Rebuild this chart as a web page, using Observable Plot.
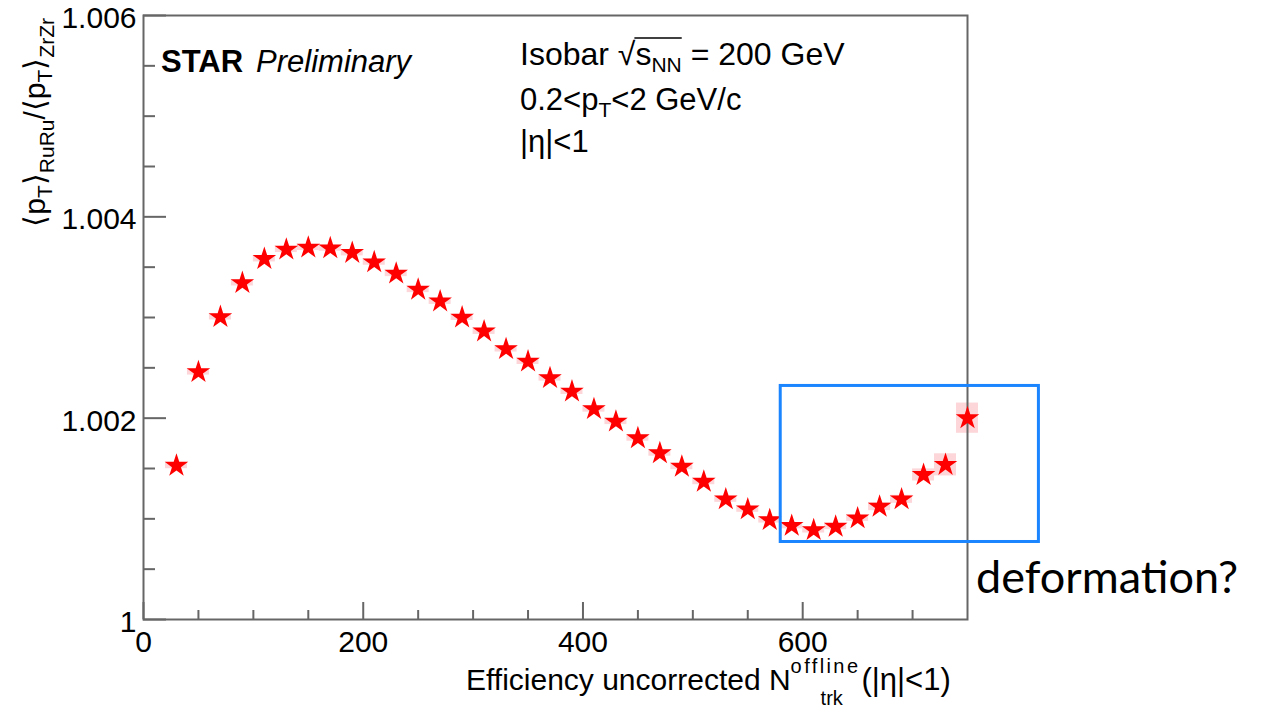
<!DOCTYPE html>
<html>
<head>
<meta charset="utf-8">
<script src="https://cdn.jsdelivr.net/npm/d3@7"></script>
<script src="https://cdn.jsdelivr.net/npm/@observablehq/plot@0.6"></script>
<style>
html, body { margin: 0; padding: 0; background: #fff; }
#chart svg { display: block; }
</style>
</head>
<body>
<div id="chart"></div>
<script>
// ---- data ----
const nTrk = [30, 50, 70, 90, 110, 130, 150, 170, 190, 210, 230, 250, 270, 290, 310, 330, 350, 370, 390,
              410, 430, 450, 470, 490, 510, 530, 550, 570, 590, 610, 630, 650, 670, 690, 710, 730, 750];
const ratio = [1.001528, 1.002458, 1.003005, 1.003343, 1.003582, 1.003675, 1.003695, 1.003688, 1.003642,
               1.003549, 1.003436, 1.003277, 1.003160, 1.003000, 1.002862, 1.002687, 1.002563, 1.002398,
               1.002265, 1.002090, 1.001966, 1.001801, 1.001652, 1.001518, 1.001369, 1.001194, 1.001095,
               1.000988, 1.000931, 1.000889, 1.000922, 1.001005, 1.001121, 1.001194, 1.001436, 1.001536,
               1.002000];
const sysErr = [0.00003, 0.00003, 0.00003, 0.00003, 0.00003, 0.00003, 0.00003, 0.00003, 0.00003,
                0.00003, 0.00003, 0.00003, 0.00003, 0.00003, 0.00003, 0.00003, 0.00003, 0.00003,
                0.00003, 0.00003, 0.00003, 0.00003, 0.00003, 0.00003, 0.00003, 0.00003, 0.00003,
                0.00003, 0.00003, 0.00003, 0.00003, 0.00003, 0.00004, 0.00004, 0.00006, 0.00011,
                0.00015];
const binHalfWidth = 10;

const xMajorTicks = [0, 200, 400, 600];
const xTickLabels = ["0", "200", "400", "600"];
const xMinorTicks = [50, 100, 150, 250, 300, 350, 450, 500, 550, 650, 700];
const yMajorTicks = [1, 1.002, 1.004, 1.006];
const yTickLabels = ["1", "1.002", "1.004", "1.006"];
const yMinorTicks = [1.0005, 1.001, 1.0015, 1.0025, 1.003, 1.0035, 1.0045, 1.005, 1.0055];

// highlighted region (the blue box)
const highlight = [{x1: 580, x2: 815, y1: 1.00077, y2: 1.00232}];

// ---- build ----
const points = nTrk.map((x, i) => ({x, y: ratio[i], e: sysErr[i]}));
const FONT = "'Liberation Sans', Arial, Helvetica, sans-serif";
const AXIS = "#666";

const plot = Plot.plot({
  width: 1269,
  height: 709,
  marginLeft: 143,
  marginRight: 302,
  marginTop: 15,
  marginBottom: 90,
  x: {domain: [0, 750], axis: null},
  y: {domain: [1, 1.006], axis: null},
  style: {fontFamily: FONT, background: "#fff", overflow: "visible", color: "#000"},
  marks: [
    Plot.rect(points, {
      x1: d => d.x - binHalfWidth, x2: d => d.x + binHalfWidth,
      y1: d => d.y - d.e, y2: d => d.y + d.e,
      fill: "#fcd6d9"
    }),
    Plot.frame({stroke: AXIS, strokeWidth: 2}),
    Plot.ruleX(xMajorTicks, {x: d => d, y1: 1, y2: 1, insetBottom: 17, stroke: AXIS, strokeWidth: 2}),
    Plot.ruleX(xMinorTicks, {x: d => d, y1: 1, y2: 1, insetBottom: 9, stroke: AXIS, strokeWidth: 2}),
    Plot.ruleY(yMajorTicks, {y: d => d, x1: 0, x2: 0, insetRight: -23, stroke: AXIS, strokeWidth: 2}),
    Plot.ruleY(yMinorTicks, {y: d => d, x1: 0, x2: 0, insetRight: -12, stroke: AXIS, strokeWidth: 2}),
    Plot.text(xMajorTicks, {
      x: d => d, y: 1, text: (d, i) => xTickLabels[i],
      lineAnchor: "top", dy: 11, fontSize: 30, fill: "#000"
    }),
    Plot.text(yMajorTicks, {
      x: 0, y: d => d, text: (d, i) => yTickLabels[i],
      textAnchor: "end", dx: -7, dy: 3, fontSize: 30, fill: "#000"
    }),
    Plot.dot(points, {x: "x", y: "y", symbol: "star", r: 7.4, fill: "#ff0000", stroke: "none"}),
    Plot.rect(highlight, {
      x1: "x1", x2: "x2", y1: "y1", y2: "y2",
      fill: "none", stroke: "#1a85ff", strokeWidth: 3
    })
  ]
});

document.getElementById("chart").appendChild(plot);

// ---- rich text annotations ----
const svg = d3.select(plot);
const ann = svg.append("g")
  .attr("font-family", FONT)
  .attr("fill", "#000")
  .attr("text-anchor", "start");

function rich(sel, parts) {
  let prev = 0;
  parts.forEach(p => {
    const sh = p.shift || 0;
    const t = sel.append("tspan").text(p.t).attr("font-size", p.size || 30);
    if (sh !== prev) t.attr("dy", sh - prev);
    if (p.dx) t.attr("dx", p.dx);
    if (p.ls) t.attr("letter-spacing", p.ls);
    if (p.weight) t.attr("font-weight", p.weight);
    if (p.style) t.attr("font-style", p.style);
    prev = sh;
  });
  return sel;
}

// y axis title
rich(ann.append("text")
  .attr("transform", "translate(45,18) rotate(-90)")
  .attr("text-anchor", "end"), [
  {t: "\u27E8p", size: 30},
  {t: "T", size: 21, shift: 7},
  {t: "\u27E9", size: 30},
  {t: "RuRu", size: 21, shift: 9},
  {t: "/\u27E8p", size: 30},
  {t: "T", size: 21, shift: 7},
  {t: "\u27E9", size: 30},
  {t: "ZrZr", size: 21, shift: 9}
]);

// x axis title
const xt = rich(ann.append("text").attr("x", 466).attr("y", 690), [
  {t: "Efficiency uncorrected N", size: 30},
  {t: "offline", size: 20, shift: -17, ls: 2.4},
  {t: "(|\u03B7|<1)", size: 31, dx: 1}
]);
const nEnd = xt.node().getEndPositionOfChar(23).x;
ann.append("text").attr("x", nEnd + 30).attr("y", 705).attr("font-size", 20).text("trk");

// STAR Preliminary
rich(ann.append("text").attr("x", 161).attr("y", 72), [
  {t: "STAR", size: 31, weight: "bold"},
  {t: "Preliminary", size: 31, style: "italic", dx: 13}
]);

// legend lines
const l1 = rich(ann.append("text").attr("x", 520).attr("y", 65), [
  {t: "Isobar ", size: 32},
  {t: "\u221A", size: 32},
  {t: "s", size: 32},
  {t: "NN", size: 21, shift: 7},
  {t: " = 200 GeV", size: 32}
]);
{
  const n = l1.node();
  const x0 = n.getStartPositionOfChar(8).x;
  const x1 = n.getEndPositionOfChar(10).x;
  ann.append("line").attr("x1", x0 - 1).attr("x2", x1).attr("y1", 38).attr("y2", 38)
    .attr("stroke", "#000").attr("stroke-width", 1.6);
}
rich(ann.append("text").attr("x", 520).attr("y", 110), [
  {t: "0.2<p", size: 31},
  {t: "T", size: 21, shift: 7},
  {t: "<2 GeV/c", size: 31}
]);
ann.append("text").attr("x", 520).attr("y", 152).attr("font-size", 31).text("|\u03B7|<1");

// slide note
ann.append("text").attr("x", 976).attr("y", 593)
  .attr("font-family", "Lato, 'Open Sans', sans-serif")
  .attr("font-size", 45).text("deformation?");
</script>
</body>
</html>
